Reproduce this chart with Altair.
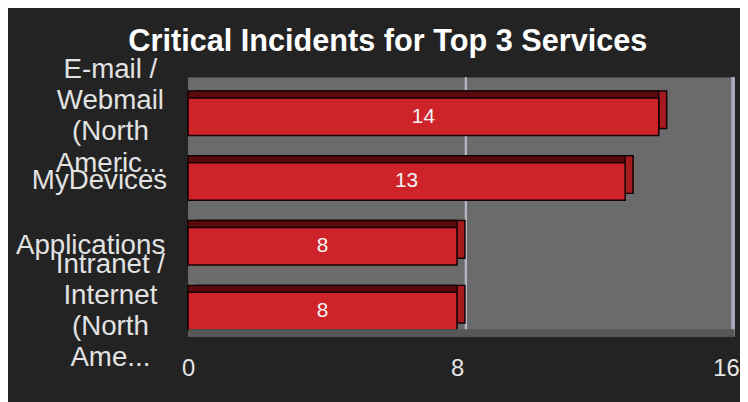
import altair as alt
import pandas as pd

# ---- data ----
categories = [
    "E-mail /\nWebmail\n(North\nAmeric...",
    "MyDevices",
    "Applications",
    "Intranet /\nInternet\n(North\nAme...",
]
values = [14, 13, 8, 8]
x_ticks = [0, 8, 16]
x_max = 16.24
grid_at = 8
title_text = "Critical Incidents for Top 3 Services"

df = pd.DataFrame({"service": categories, "incidents": values})

FONT = "Liberation Sans"
BG = "#232323"
WALL = "#6b6b6b"
FRONT = "#cf232a"
SIDE = "#a61b20"
TOP = "#5a0a0d"
EDGE = "#140000"

x_scale = alt.Scale(domain=[0, x_max], nice=False, zero=True)
y_scale = alt.Scale(domain=categories, paddingInner=0, paddingOuter=0)

x_axis = alt.Axis(
    values=x_ticks, title=None, grid=False, ticks=False,
    domain=True, domainColor="#575757", domainWidth=8, offset=-4,
    labelFontSize=24, labelColor="#e6e6e6", labelFont=FONT,
    labelPadding=24, labelFlush=False, zindex=1,
)
y_axis = alt.Axis(
    title=None, grid=False, ticks=False, domain=False,
    labelExpr="split(datum.label, '\\n')",
    labelFontSize=28, labelColor="#e2e2e2", labelFont=FONT,
    labelLineHeight=31.5, labelAlign="center", labelBaseline="middle",
    labelLimit=0,
    labelOffset={
        "condition": {"test": "indexof(datum.value, '\\n') >= 0", "value": -40},
        "value": 7,
    },
    labelPadding={
        "condition": [
            {"test": "datum.value == 'Applications'", "value": 99},
            {"test": "datum.value == 'MyDevices'", "value": 90},
        ],
        "value": 79,
    },
)

base = alt.Chart(df)

x_enc = alt.X("incidents:Q", scale=x_scale, axis=x_axis)
y_enc = alt.Y("service:N", scale=y_scale, axis=y_axis, sort=categories)

grid_rule = base.mark_rule(color="#b6b6c6", strokeWidth=2, xOffset=9).encode(
    x=alt.datum(grid_at, scale=x_scale)
)
edge_rule = base.mark_rule(color="#a9a9bb", strokeWidth=3, xOffset=-1).encode(
    x=alt.datum(x_max, scale=x_scale)
)

side = base.mark_bar(
    color=SIDE, stroke=EDGE, strokeWidth=1.5, size=38,
    xOffset=8, x2Offset=8, yOffset=0,
).encode(x=x_enc, x2=alt.datum(0), y=y_enc)

top = base.mark_bar(
    color=TOP, stroke=EDGE, strokeWidth=1.5, size=38, yOffset=0,
).encode(x=x_enc, x2=alt.datum(0), y=y_enc)

front = base.mark_bar(
    color=FRONT, stroke=EDGE, strokeWidth=1.5, size=38, yOffset=7,
).encode(x=x_enc, x2=alt.datum(0), y=y_enc)

labels = base.transform_calculate(mid="datum.incidents / 2").mark_text(
    color="#f2f2f2", fontSize=21, font=FONT, yOffset=7, baseline="middle",
).encode(
    x=alt.X("mid:Q", scale=x_scale),
    y=alt.Y("service:N", scale=y_scale, sort=categories),
    text=alt.Text("incidents:Q"),
)

chart = (
    alt.layer(grid_rule, edge_rule, side, top, front, labels)
    .properties(
        width=552,
        height=262,
        background=BG,
        padding={"left": 182, "top": 68, "right": 6, "bottom": 64},
        autosize=alt.AutoSizeParams(type="none"),
        title=alt.Title(
            title_text, font=FONT, fontSize=31, fontWeight="bold",
            color="#ffffff", anchor="middle", frame="group", dx=-74,
            offset=-2,
        ),
    )
    .configure_view(fill=WALL, stroke=None)
)

chart.save("out.html", embed_options={"renderer": "svg", "actions": False})
